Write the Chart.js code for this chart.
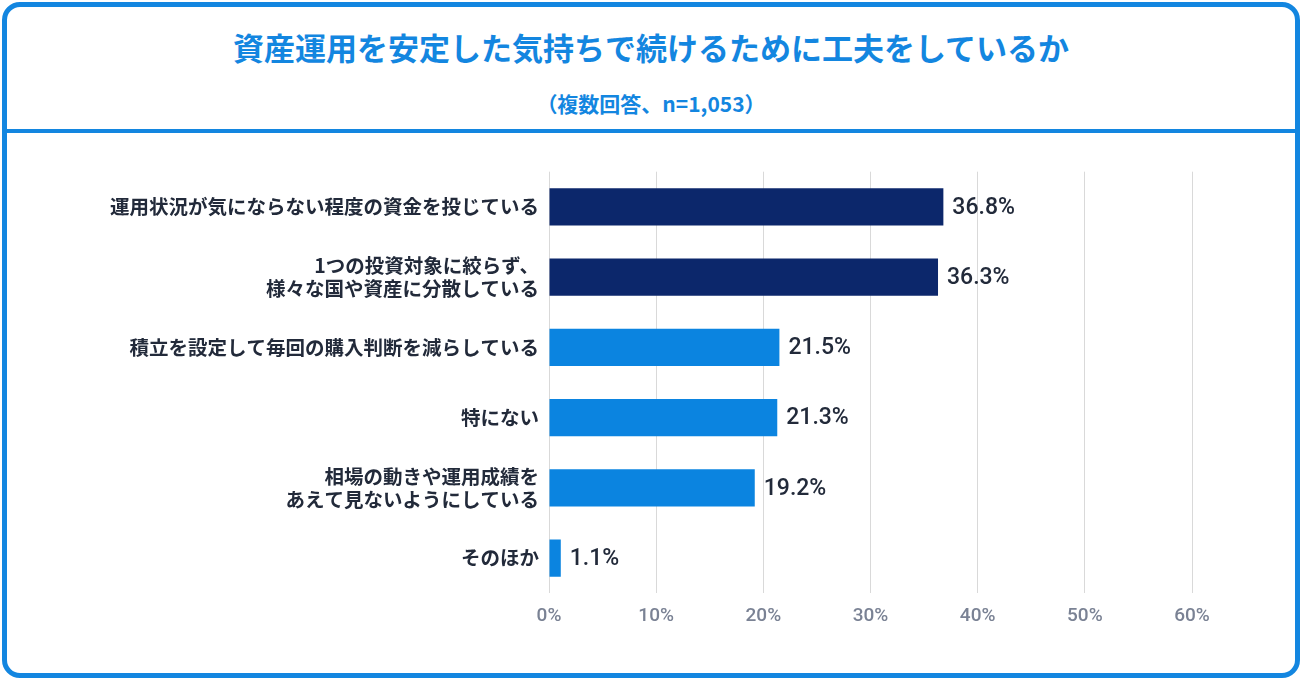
<!DOCTYPE html>
<html><head><meta charset="utf-8">
<script src="https://cdn.jsdelivr.net/npm/chart.js@4"></script>
<style>
body{margin:0;background:#fff;font-family:"Noto Sans CJK JP",Roboto,sans-serif;}
#frame{position:absolute;left:2px;top:2px;width:1288px;height:666px;border:5px solid #1386e0;border-radius:18px;}
#title{position:absolute;left:0;width:1302px;top:24px;text-align:center;color:#1386e0;font-size:31px;font-weight:bold;}
#sub{position:absolute;left:0;width:1302px;top:88px;text-align:center;color:#1386e0;font-size:21px;font-weight:bold;}
#sep{position:absolute;left:3px;width:1296px;top:129px;height:4px;background:#1386e0;}
#wrap{position:absolute;left:10px;top:158px;width:1230px;height:482px;}
</style></head><body>
<div id="frame"></div>
<div id="title">資産運用を安定した気持ちで続けるために工夫をしているか</div>
<div id="sub">（複数回答、n=1,053）</div>
<div id="sep"></div>
<div id="wrap"><canvas id="c"></canvas></div>
<script>
var categories = [
  "運用状況が気にならない程度の資金を投じている",
  ["1つの投資対象に絞らず、", "様々な国や資産に分散している"],
  "積立を設定して毎回の購入判断を減らしている",
  "特にない",
  ["相場の動きや運用成績を", "あえて見ないようにしている"],
  "そのほか"
];
var values = [36.8, 36.3, 21.5, 21.3, 19.2, 1.1];
var barColors = ["#0c276b", "#0c276b", "#0b84e0", "#0b84e0", "#0b84e0", "#0b84e0"];

var valueLabels = {
  id: "valueLabels",
  afterDatasetsDraw: function (chart) {
    var ctx = chart.ctx;
    ctx.save();
    ctx.font = "500 23px Roboto, sans-serif";
    ctx.fillStyle = "#222a3a";
    ctx.textBaseline = "middle";
    chart.getDatasetMeta(0).data.forEach(function (bar, i) {
      ctx.fillText(values[i].toFixed(1) + "%", bar.x + 9, bar.y + 1);
    });
    ctx.restore();
  }
};

new Chart(document.getElementById("c"), {
  type: "bar",
  data: { labels: categories, datasets: [{ data: values, backgroundColor: barColors, barPercentage: 0.53, categoryPercentage: 1 }] },
  options: {
    indexAxis: "y",
    responsive: true,
    maintainAspectRatio: false,
    animation: false,
    layout: { padding: { top: 8, right: 48 } },
    plugins: { legend: { display: false }, tooltip: { enabled: false } },
    scales: {
      x: {
        min: 0, max: 60,
        ticks: { stepSize: 10, callback: function (v) { return v + "%"; }, color: "#7a8294", font: { size: 19, weight: "500", family: "Roboto" }, padding: 12 },
        grid: { color: "#d9d9d9", drawTicks: false },
        border: { display: false }
      },
      y: {
        afterFit: function (s) { s.width = 539; },
        ticks: { color: "#222a3a", font: { size: 19.5, weight: "bold", family: "Noto Sans CJK JP" }, padding: 2 },
        grid: { display: false },
        border: { display: false }
      }
    }
  },
  plugins: [valueLabels]
});
</script>
</body></html>
